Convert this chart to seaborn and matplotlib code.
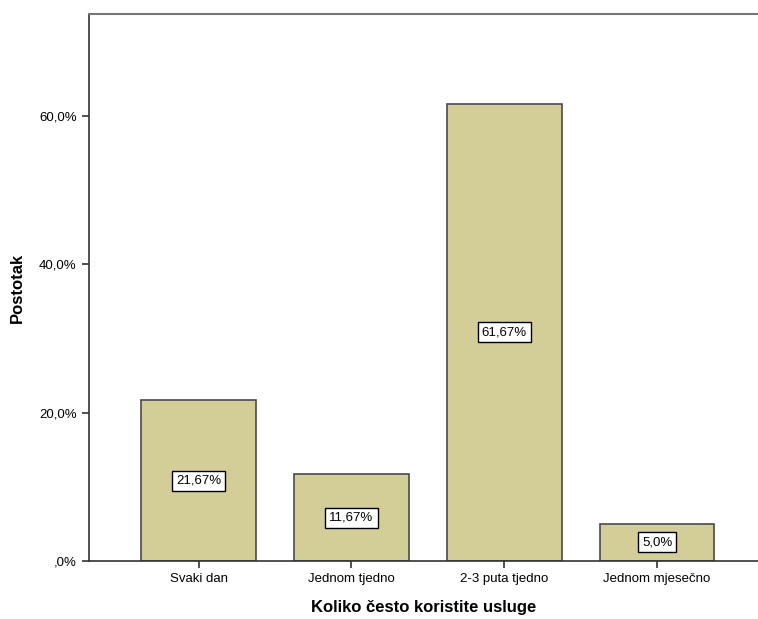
import matplotlib
matplotlib.use("Agg")
import matplotlib.pyplot as plt
import seaborn as sns
import pandas as pd

# data
categories = ["Svaki dan", "Jednom tjedno", "2-3 puta tjedno", "Jednom mjesečno"]
percentages = [21.67, 11.67, 61.67, 5.0]
bar_labels = ["21,67%", "11,67%", "61,67%", "5,0%"]
y_ticks = [0, 20, 40, 60]
y_tick_labels = [",0%", "20,0%", "40,0%", "60,0%"]

df = pd.DataFrame({"category": categories, "pct": percentages})

sns.set_style("white")
plt.rcParams['font.family'] = ['Liberation Sans', 'DejaVu Sans']
plt.rcParams['text.color'] = 'black'
plt.rcParams['axes.labelcolor'] = 'black'
plt.rcParams['xtick.color'] = 'black'
plt.rcParams['ytick.color'] = 'black'

fig = plt.figure(figsize=(7.58, 6.19), dpi=100)
ax = fig.add_axes([0.1168, 0.0937, 0.8832, 0.8837])

sns.barplot(data=df, x="category", y="pct", color="#D3CE98", saturation=1,
            width=0.75, edgecolor="#4a4a4a", linewidth=1.2, ax=ax)

# value labels in white boxes in the middle of each bar
for i, (v, lab) in enumerate(zip(percentages, bar_labels)):
    ax.text(i, v / 2, lab, ha="center", va="center", fontsize=9.5,
            bbox=dict(boxstyle="square,pad=0.3", fc="white", ec="black", lw=1.0))

ax.set_xlim(-0.72, 3.66)
ax.set_ylim(0, 73.75)
ax.set_yticks(y_ticks)
ax.set_yticklabels(y_tick_labels, fontsize=9.5)
ax.tick_params(axis="x", labelsize=9.5)
ax.tick_params(axis="both", direction="out", length=5, width=1.2, color="#333333", left=True, bottom=True)

ax.set_xlabel("Koliko često koristite usluge", fontsize=12, fontweight="bold", labelpad=11)
ax.set_ylabel("Postotak", fontsize=12, fontweight="bold", labelpad=10)

for side in ["left", "bottom"]:
    ax.spines[side].set_color("#333333")
    ax.spines[side].set_linewidth(1.2)
ax.spines["top"].set_color("#777777")
ax.spines["top"].set_linewidth(1.5)
ax.spines["right"].set_visible(False)

fig.savefig("out.png", dpi=100)
